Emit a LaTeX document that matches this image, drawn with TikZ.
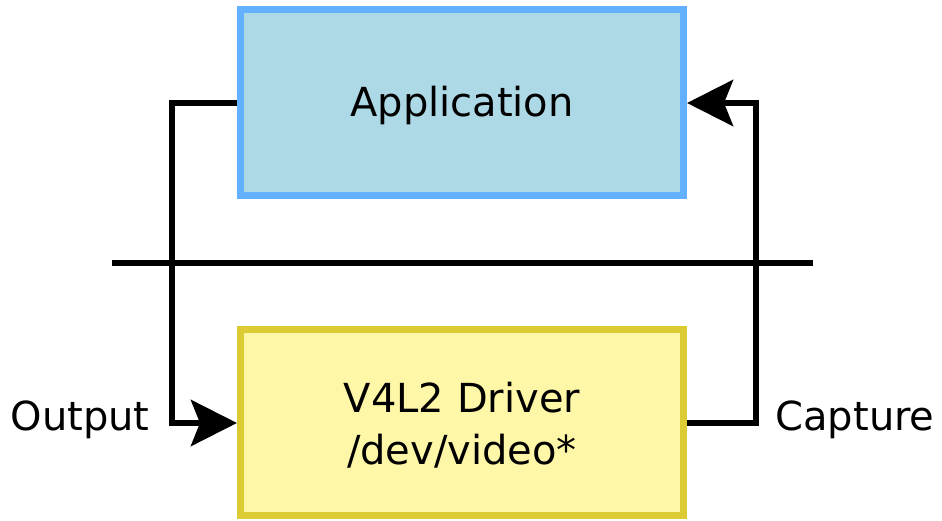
\documentclass[tikz,border=0pt]{standalone}
\usepackage{fontspec}
\setmainfont{DejaVu Sans}
\usetikzlibrary{arrows.meta}
\definecolor{appfill}{RGB}{173,216,230}
\definecolor{appdraw}{RGB}{98,176,255}
\definecolor{drvfill}{RGB}{255,247,168}
\definecolor{drvdraw}{RGB}{221,203,51}
\tikzset{
  box/.style={minimum width=443pt, minimum height=186pt, line width=7pt, inner sep=0pt, outer sep=3.5pt},
  conn/.style={line width=6.5pt},
  lbl/.style={font=\fontsize{40}{52}\selectfont, inner sep=0pt, align=center},
  tip/.style={-{Stealth[length=46pt,width=46pt,inset=9pt]}}
}
\begin{document}
\begin{tikzpicture}[x=1pt,y=-1pt]
\useasboundingbox (0,0) rectangle (942,521);
\node[box, fill=appfill, draw=appdraw] (app) at (462,102.5) {};
\node[box, fill=drvfill, draw=drvdraw] (drv) at (462,422) {};
\node[lbl] (apptext) at (462,105) {Application};
\node[lbl] (drvtext) at (462,425) {V4L2 Driver\\/dev/video*};
\coordinate (ll) at (112,263);
\coordinate (lr) at (813,263);
\draw[conn] (ll) -- (lr);
\coordinate (lt) at (172,103);
\coordinate (lb) at (172,423);
\coordinate (rb) at (756,423);
\coordinate (rt) at (756,103);
\draw[conn, tip, line join=miter] (app.west |- lt) -- (lt) -- (lb) -- (drv.west |- lb);
\draw[conn, tip, line join=miter] (drv.east |- rb) -- (rb) -- (rt) -- (app.east |- rt);
\node[lbl] (out) at (80,420) {Output};
\node[lbl] (cap) at (855,420) {Capture};
\end{tikzpicture}
\end{document}
